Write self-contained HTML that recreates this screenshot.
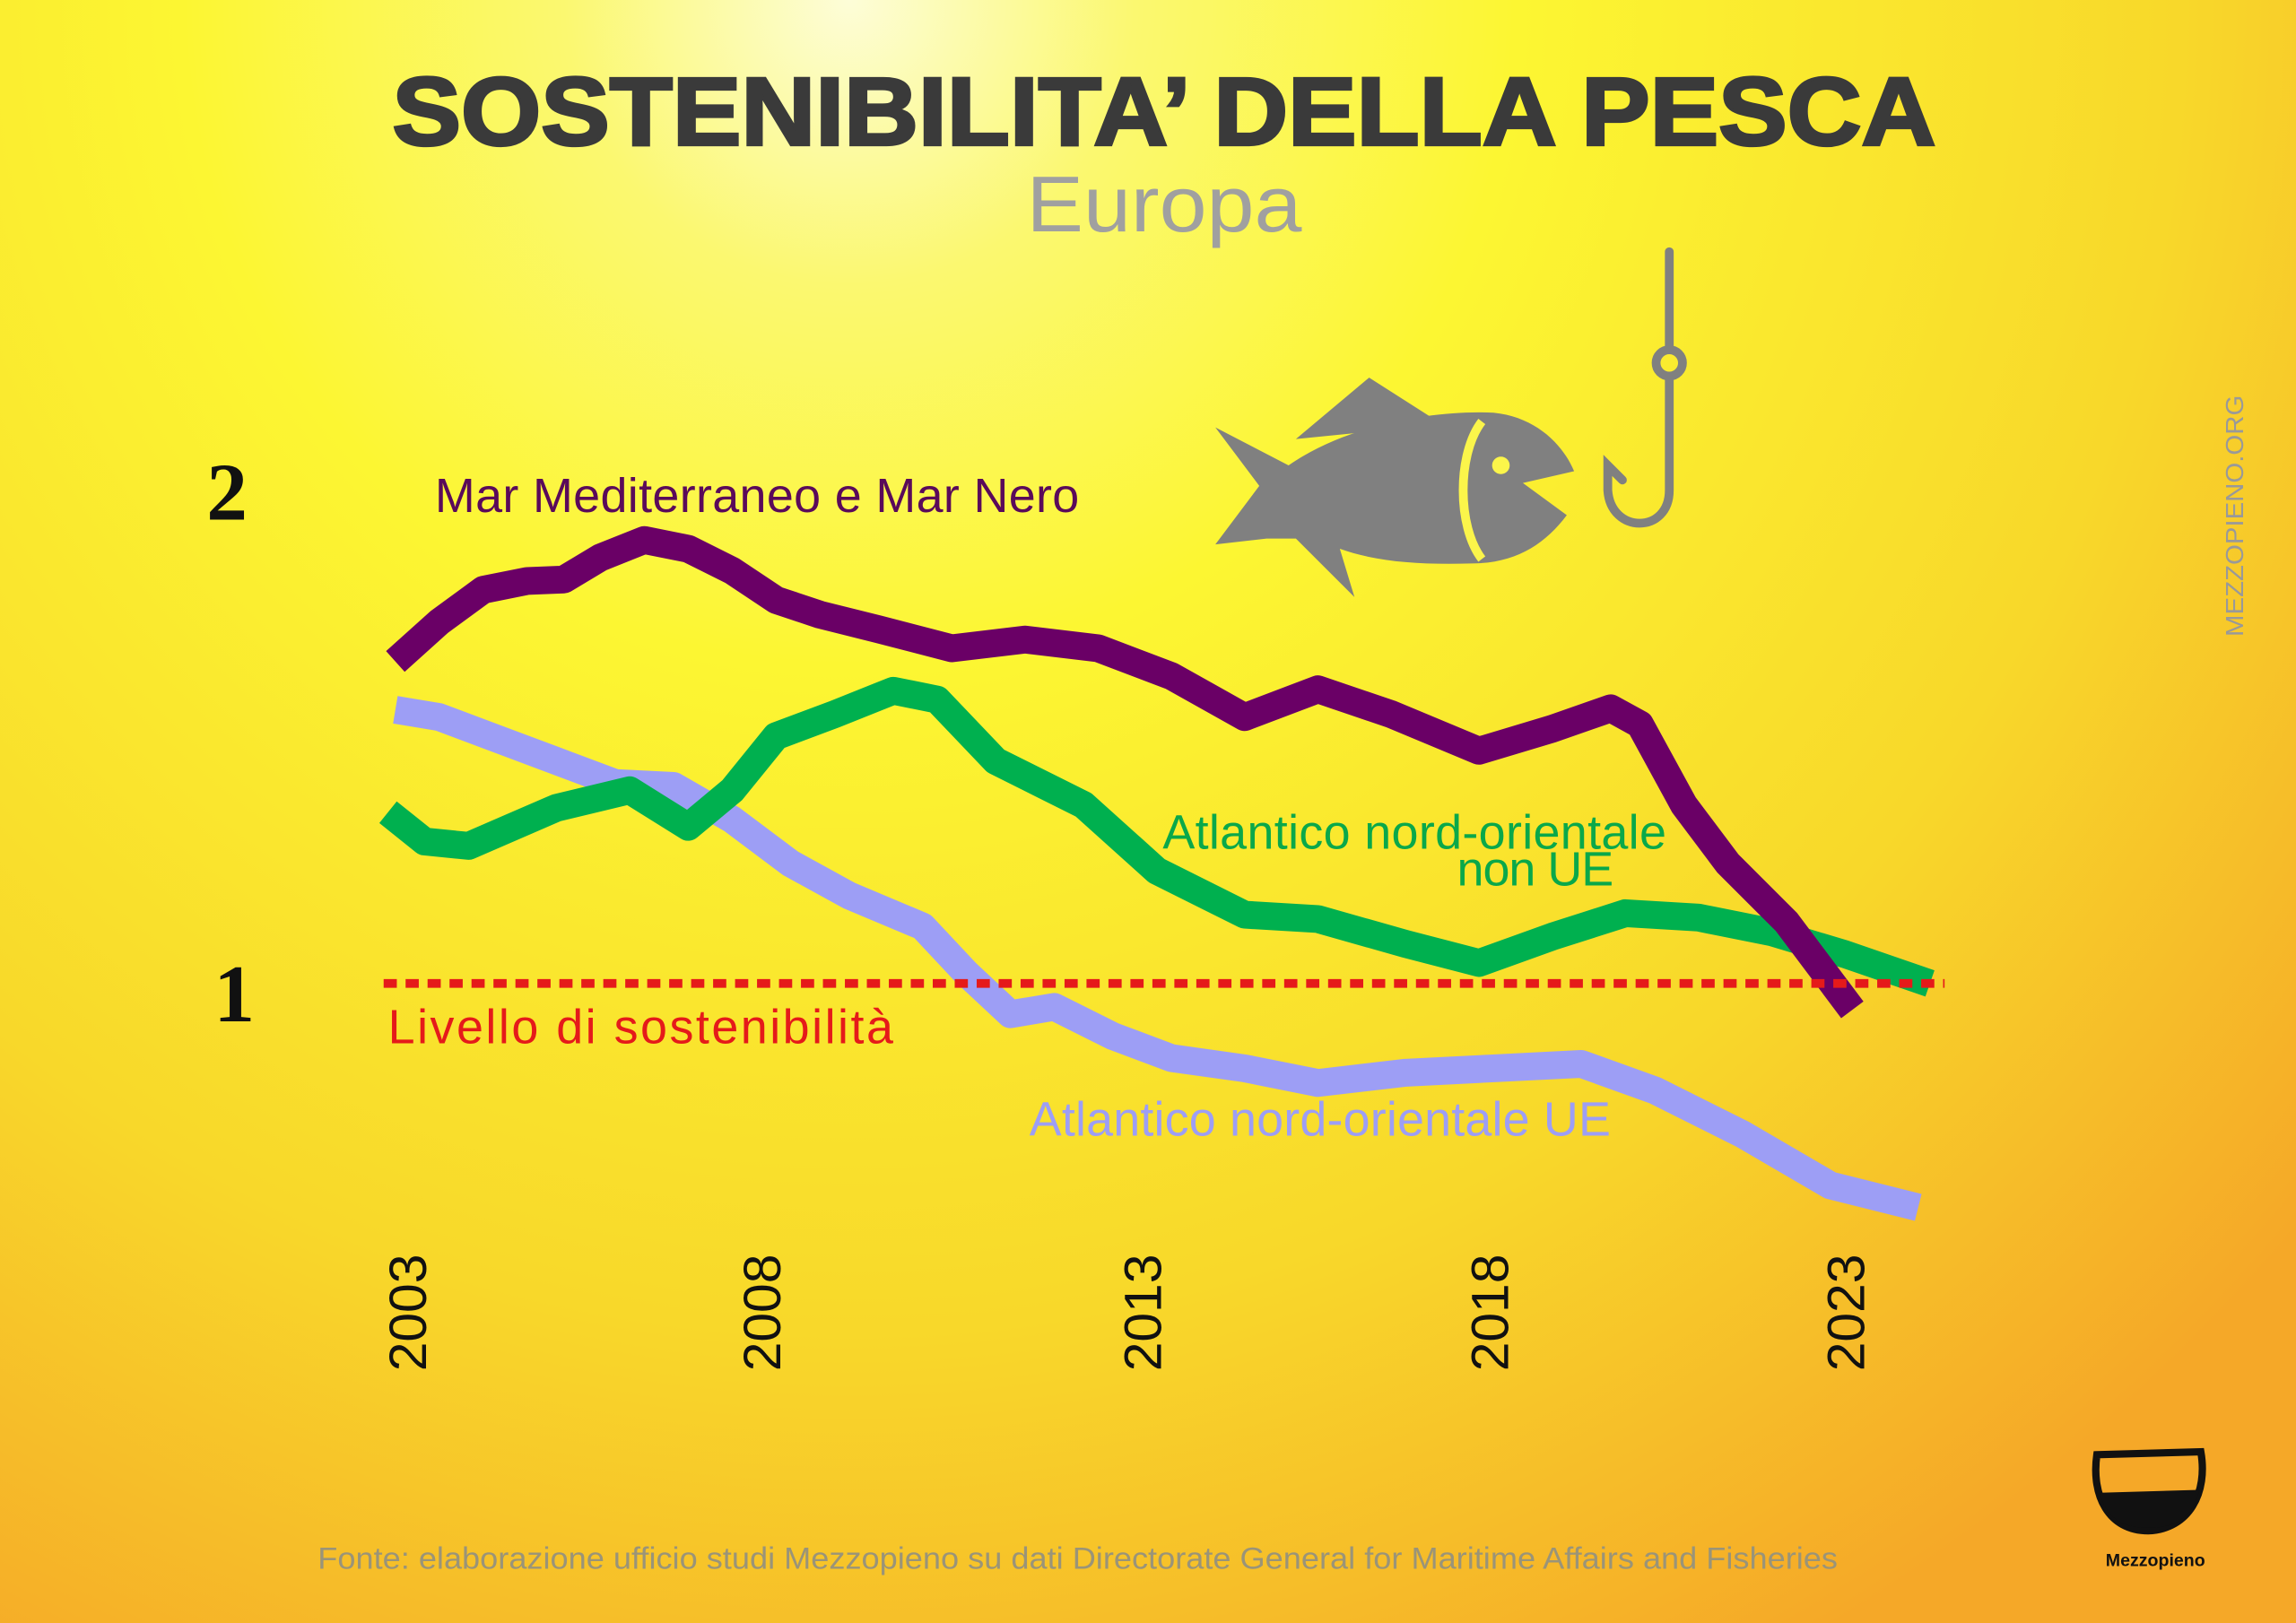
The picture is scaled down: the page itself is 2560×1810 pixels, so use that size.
<!DOCTYPE html>
<html><head><meta charset="utf-8"><style>
html,body{margin:0;padding:0;width:2560px;height:1810px;overflow:hidden}
svg{display:block}
</style></head><body>
<svg width="2560" height="1810" viewBox="0 0 1568 1109" preserveAspectRatio="none" xmlns="http://www.w3.org/2000/svg">
<defs>
<radialGradient id="bg" cx="580" cy="0" r="1300" gradientUnits="userSpaceOnUse">
<stop offset="0" stop-color="#fdfdd8"/>
<stop offset="0.15" stop-color="#fbf870"/>
<stop offset="0.35" stop-color="#fcf632"/>
<stop offset="0.7" stop-color="#f8d82a"/>
<stop offset="1" stop-color="#f5a828"/>
</radialGradient>
</defs>
<rect width="1568" height="1109" fill="url(#bg)"/>
<text x="795" y="99" text-anchor="middle" font-family="Liberation Sans, sans-serif" font-weight="bold" font-size="66" fill="#3a3a3a" textLength="1054" lengthAdjust="spacingAndGlyphs" stroke="#3a3a3a" stroke-width="2">SOSTENIBILITA’ DELLA PESCA</text>
<text x="795" y="158" text-anchor="middle" font-family="Liberation Sans, sans-serif" font-size="54" fill="#a0a0a0" textLength="188" lengthAdjust="spacingAndGlyphs">Europa</text>
<text x="155" y="355" text-anchor="middle" font-family="Liberation Serif, serif" font-weight="bold" font-size="56" fill="#111">2</text>
<text x="160" y="698" text-anchor="middle" font-family="Liberation Serif, serif" font-weight="bold" font-size="56" fill="#111">1</text>
<g fill="none" stroke-linecap="butt" stroke-linejoin="round" stroke-width="19">
<polyline stroke="#9d9ef5" points="270,485 300,490 340,505 380,520 420,535 460,537 500,560 540,590 580,612 630,633 660,665 690,693 720,688 760,708 800,723 850,730 900,740 960,733 1020,730 1080,727 1130,745 1190,775 1250,810 1310,825"/>
<polyline stroke="#00b04f" points="265,555 290,575 320,578 350,565 380,552 430,540 470,565 500,540 530,503 570,488 610,472 640,478 680,520 740,550 790,595 850,625 900,628 960,645 1010,658 1060,640 1110,624 1160,627 1210,637 1260,652 1318,672"/>
<polyline stroke="#6a0066" points="270,452 300,425 330,403 360,397 385,396 410,381 440,369 470,375 500,390 530,410 560,420 600,430 650,443 700,437 750,443 800,462 850,490 900,471 950,488 1010,513 1060,498 1100,484 1120,495 1150,550 1180,590 1220,630 1265,690"/>
</g>
<line x1="262" y1="672" x2="1328" y2="672" stroke="#e51a1a" stroke-width="6" stroke-dasharray="9 6"/>
<g font-family="Liberation Sans, sans-serif" font-size="33" lengthAdjust="spacingAndGlyphs">
<text x="297" y="350" fill="#5a0a5a" textLength="440">Mar Mediterraneo e Mar Nero</text>
<text x="794" y="580" fill="#0aa84a" textLength="344">Atlantico nord-orientale</text>
<text x="995" y="605" fill="#0aa84a" textLength="107">non UE</text>
<text x="265" y="713" fill="#e51a1a" textLength="345">Livello di sostenibilità</text>
<text x="703" y="776" fill="#9d9ef5" textLength="397">Atlantico nord-orientale UE</text>
</g>
<g font-family="Liberation Sans, sans-serif" font-size="36" fill="#111">
<text transform="translate(291,937) rotate(-90)">2003</text>
<text transform="translate(533,937) rotate(-90)">2008</text>
<text transform="translate(793,937) rotate(-90)">2013</text>
<text transform="translate(1030,937) rotate(-90)">2018</text>
<text transform="translate(1273,937) rotate(-90)">2023</text>
</g>
<text x="217" y="1072" font-family="Liberation Sans, sans-serif" font-size="21" fill="#9a9478" textLength="1038" lengthAdjust="spacingAndGlyphs">Fonte: elaborazione ufficio studi Mezzopieno su dati Directorate General for Maritime Affairs and Fisheries</text>
<text transform="translate(1532,435) rotate(-90)" font-family="Liberation Sans, sans-serif" font-size="17" fill="#999" textLength="165" lengthAdjust="spacingAndGlyphs">MEZZOPIENO.ORG</text>
<g fill="#808080">
<path d="M830,292 L880,318 C920,290 980,280 1020,282 C1050,285 1068,305 1075,322 L1040,330 L1070,352 C1055,372 1035,385 1005,385 C970,386 940,384 915,375 L925,408 L885,368 L865,368 L830,372 L860,332 Z"/>
<path d="M885,300 L935,258 L985,290 Z"/>
</g>
<path d="M1012,288 C995,310 995,360 1012,382" stroke="#fbf54a" stroke-width="6" fill="none"/>
<circle cx="1025" cy="318" r="6" fill="#fbf54a"/>
<g stroke="#808080" stroke-width="6" fill="none" stroke-linecap="round">
<line x1="1140" y1="172" x2="1140" y2="238"/>
<circle cx="1140" cy="248" r="9"/>
<path d="M1140,258 L1140,335 C1140,365 1100,365 1098,335 L1098,318 L1108,328"/>
</g>
<path d="M1432,994 L1503,992 C1508,1020 1495,1045 1467,1046 C1440,1046 1428,1022 1432,994 Z" fill="none" stroke="#111" stroke-width="5"/>
<path d="M1434,1020 L1502,1018 C1498,1036 1486,1044 1467,1044 C1448,1044 1438,1036 1434,1020 Z" fill="#111"/>
<text x="1472" y="1070" text-anchor="middle" font-family="Liberation Sans, sans-serif" font-weight="bold" font-size="12" fill="#111">Mezzopieno</text>
</svg>
</body></html>
